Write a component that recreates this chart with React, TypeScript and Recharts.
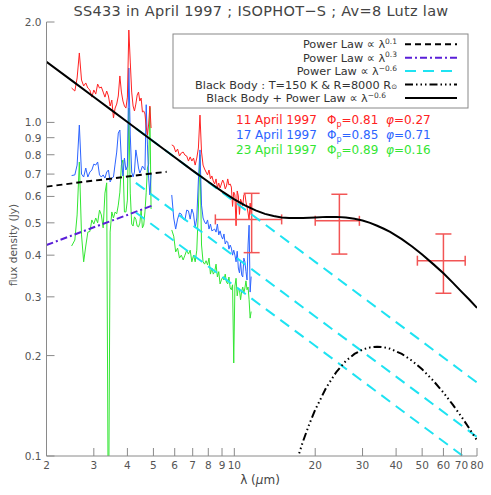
import React from 'react';
import { ComposedChart, Line, XAxis, YAxis, Scatter, ErrorBar, Customized } from 'recharts';

const FONT = "'DejaVu Sans', 'Liberation Sans', sans-serif";
const AXIS = '#8a8a8a';
const TICK_TXT = '#555';
const RED = '#ff2222';
const BLUE = '#2c64ff';
const GREEN = '#33e633';
const CYAN = '#1fe3f2';
const PURPLE = '#5a1fd8';

// ---------- axis ticks ----------
const xTicks = [2, 3, 4, 5, 6, 7, 8, 9, 10, 20, 30, 40, 50, 60, 70, 80];
const yTicks = [0.1, 0.2, 0.3, 0.4, 0.5, 0.6, 0.7, 0.8, 0.9, 1.0, 2.0];

// ---------- ISOPHOT-S spectra: short channel ----------
const shortWl = [2.48, 2.55, 2.6, 2.65, 2.7, 2.75, 2.8, 2.85, 2.9, 2.95, 3.0, 3.05, 3.1, 3.15, 3.2, 3.25, 3.3, 3.35, 3.4, 3.45, 3.5, 3.55, 3.6, 3.65, 3.7, 3.75, 3.8, 3.85, 3.9, 3.95, 4.0, 4.05, 4.1, 4.15, 4.2, 4.25, 4.3, 4.35, 4.4, 4.45, 4.5, 4.55, 4.6, 4.65, 4.7, 4.75, 4.8, 4.85, 4.9];
const redShort = [1.268, 1.242, 1.359, 1.615, 1.34, 1.286, 1.313, 1.268, 1.251, 1.191, 1.251, 1.216, 1.303, 1.268, 1.277, 1.233, 1.191, 1.242, 1.2, 1.12, 1.167, 1.031, 1.104, 1.135, 1.2, 1.378, 1.233, 1.159, 1.12, 1.104, 1.191, 1.892, 1.517, 1.233, 1.12, 1.082, 1.135, 1.208, 1.233, 1.159, 1.183, 1.075, 1.082, 1.06, 0.969, 0.917, 0.989, 1.12, 0.962];
const blueShort = [0.693, 0.696, 0.745, 0.982, 0.7, 0.686, 0.73, 0.686, 0.71, 0.72, 0.75, 0.745, 0.761, 0.696, 0.686, 0.696, 0.681, 0.71, 0.72, 0.663, 0.681, 0.686, 0.75, 0.815, 0.929, 0.949, 0.772, 0.691, 0.782, 0.72, 0.74, 1.456, 0.917, 0.71, 0.686, 0.71, 0.827, 0.782, 0.73, 0.705, 0.72, 0.74, 0.73, 0.72, 1.13, 0.856, 0.681, 0.606, 0.7];
const greenShort = [0.426, 0.444, 0.528, 0.761, 0.46, 0.382, 0.426, 0.469, 0.471, 0.51, 0.496, 0.517, 0.5, 0.546, 0.528, 0.483, 0.614, 0.659, 0.05, 0.469, 0.539, 0.517, 0.539, 0.532, 0.565, 0.618, 0.745, 0.772, 0.539, 0.539, 0.585, 1.104, 0.614, 0.496, 0.489, 0.521, 0.513, 0.489, 0.486, 0.499, 0.546, 0.483, 0.492, 0.539, 0.618, 0.73, 0.75, 1.11, 0.55];

// ---------- ISOPHOT-S spectra: long channel ----------
const longWl = [5.85, 5.95, 6.05, 6.15, 6.25, 6.35, 6.45, 6.55, 6.65, 6.75, 6.85, 6.95, 7.05, 7.15, 7.25, 7.35, 7.45, 7.55, 7.65, 7.75, 7.85, 7.95, 8.05, 8.15, 8.25, 8.35, 8.45, 8.55, 8.65, 8.75, 8.85, 8.95, 9.05, 9.15, 9.25, 9.35, 9.45, 9.55, 9.65, 9.75, 9.85, 9.95, 10.05, 10.15, 10.25, 10.35, 10.45, 10.55, 10.65, 10.75, 10.85, 10.95, 11.05, 11.15, 11.25, 11.35, 11.45, 11.55];
const redLong = [0.856, 0.85, 0.815, 0.832, 0.793, 0.81, 0.815, 0.798, 0.793, 0.766, 0.788, 0.766, 0.782, 0.745, 0.782, 0.838, 1.052, 0.815, 0.745, 0.725, 0.71, 0.696, 0.72, 0.677, 0.691, 0.667, 0.654, 0.677, 0.636, 0.658, 0.636, 0.654, 0.672, 0.658, 0.632, 0.645, 0.677, 0.649, 0.654, 0.64, 0.56, 0.618, 0.606, 0.49, 0.623, 0.602, 0.53, 0.589, 0.577, 0.562, 0.606, 0.612, 0.577, 0.558, 0.535, 0.51, 0.573, 0.528];
const blueLong = [0.606, 0.517, 0.479, 0.513, 0.535, 0.531, 0.513, 0.51, 0.546, 0.543, 0.513, 0.55, 0.531, 0.483, 0.517, 0.672, 0.827, 0.565, 0.517, 0.503, 0.496, 0.51, 0.479, 0.496, 0.473, 0.476, 0.479, 0.469, 0.496, 0.46, 0.473, 0.456, 0.447, 0.463, 0.432, 0.441, 0.438, 0.417, 0.429, 0.42, 0.4, 0.414, 0.4, 0.382, 0.411, 0.366, 0.354, 0.382, 0.349, 0.344, 0.392, 0.382, 0.357, 0.337, 0.429, 0.492, 0.31, 0.345];
const greenLong = [0.476, 0.456, 0.409, 0.42, 0.392, 0.4, 0.387, 0.4, 0.414, 0.403, 0.414, 0.382, 0.4, 0.382, 0.414, 0.55, 0.8, 0.429, 0.382, 0.376, 0.385, 0.374, 0.392, 0.351, 0.366, 0.351, 0.357, 0.376, 0.344, 0.357, 0.328, 0.337, 0.344, 0.337, 0.351, 0.332, 0.328, 0.344, 0.319, 0.315, 0.326, 0.19, 0.323, 0.341, 0.302, 0.319, 0.315, 0.294, 0.312, 0.321, 0.308, 0.319, 0.335, 0.315, 0.321, 0.294, 0.259, 0.271];

// ---------- models ----------
const pl01Wl = [2, 3, 4, 5, 5.6];
const pl01Flux = [0.642, 0.669, 0.688, 0.704, 0.711];
const pl03Wl = [2, 3, 4, 5];
const pl03Flux = [0.429, 0.485, 0.528, 0.565];
const cyanWl = [4.3, 10, 20, 40, 80];
const cyanTop = [0.96, 0.579, 0.382, 0.252, 0.166];
const cyanMid = [0.659, 0.397, 0.262, 0.173, 0.114];
const cyanLow = [0.537, 0.324, 0.214, 0.141, 0.093];
const bbWl = [16, 17, 18, 19, 20, 22, 24, 26, 28, 30, 32, 34, 36, 38, 42, 46, 50, 55, 60, 65, 70, 75, 80];
const bbFlux = [0.0805, 0.0957, 0.1104, 0.1245, 0.1376, 0.1606, 0.1789, 0.1927, 0.2023, 0.2086, 0.2116, 0.2127, 0.2119, 0.2097, 0.2023, 0.1926, 0.1819, 0.1682, 0.155, 0.1425, 0.1312, 0.1207, 0.1114];
const totWl = [2, 2.5, 3, 3.5, 4, 5, 6, 7, 8, 9, 10, 11, 12, 13, 14, 15, 16, 17, 18, 19, 20, 22, 24, 26, 28, 30, 32, 34, 36, 38, 42, 46, 50, 55, 60, 65, 70, 75, 80];
const totFlux = [1.52, 1.33, 1.192, 1.087, 1.003, 0.877, 0.786, 0.717, 0.664, 0.621, 0.588, 0.563, 0.545, 0.532, 0.524, 0.519, 0.517, 0.517, 0.517, 0.518, 0.519, 0.521, 0.521, 0.519, 0.514, 0.508, 0.5, 0.49, 0.48, 0.47, 0.447, 0.424, 0.402, 0.376, 0.353, 0.331, 0.311, 0.294, 0.278];

// ---------- photometry with error bars ----------
const photWl = [11.6, 24.6, 60];
const photFlux = [0.512, 0.507, 0.385];
const photXLo = [3.1, 4.6, 12.0];
const photXHi = [3.4, 4.6, 12.3];
const photYLo = [0.105, 0.104, 0.0775];
const photYHi = [0.101, 0.102, 0.078];

// ---------- legend / annotation text ----------
const legendEntries = [
  { main: 'Power Law ∝ λ', sup: '0.1', sub: '', dash: '6 4', color: '#000', end: 397 },
  { main: 'Power Law ∝ λ', sup: '0.3', sub: '', dash: '7 3 2 3', color: PURPLE, end: 397 },
  { main: 'Power Law ∝ λ', sup: '−0.6', sub: '', dash: '11 7', color: CYAN, end: 397 },
  { main: 'Black Body : T=150 K & R=8000 R', sup: '', sub: '⊙', dash: '8 3 1.5 3 1.5 3 1.5 3', color: '#000', end: 397 },
  { main: 'Black Body + Power Law ∝ λ', sup: '−0.6', sub: '', dash: '', color: '#000', end: 386 },
];
const dates = ['11 April 1997', '17 April 1997', '23 April 1997'];
const phiP = ['0.81', '0.85', '0.89'];
const phase = ['0.27', '0.71', '0.16'];
const dateColors = [RED, BLUE, GREEN];

const zip = (xs: number[], ys: number[]) => xs.map((x, i) => ({ x, y: ys[i] }));
const photData = photWl.map((x, i) => ({ x, y: photFlux[i], ex: [photXLo[i], photXHi[i]], ey: [photYLo[i], photYHi[i]] }));

const TL = 8;
const BottomTick = (p: any) => {
  const { x, y, payload } = p;
  return (
    <g>
      <line x1={x} x2={x} y1={y} y2={y - TL} stroke={AXIS} />
      <text x={x} y={y + 13} textAnchor="middle" fontSize={10.5} fill={TICK_TXT} fontFamily={FONT}>{String(payload.value)}</text>
    </g>
  );
};
const TopTick = (p: any) => {
  const { x, y } = p;
  return <line x1={x} x2={x} y1={y} y2={y + TL} stroke={AXIS} />;
};
const LeftTick = (p: any) => {
  const { x, y, payload } = p;
  return (
    <g>
      <line x1={x} x2={x + TL} y1={y} y2={y} stroke={AXIS} />
      <text x={x - 5} y={y + 4} textAnchor="end" fontSize={10.5} fill={TICK_TXT} fontFamily={FONT}>{Number(payload.value).toFixed(1)}</text>
    </g>
  );
};
const RightTick = (p: any) => {
  const { x, y } = p;
  return <line x1={x - TL} x2={x} y1={y} y2={y} stroke={AXIS} />;
};

const Empty = () => <g />;

const Overlay = () => (
  <g fontFamily={FONT}>
    <text x={261} y={16} textAnchor="middle" fontSize={14.5} letterSpacing={0.3} fill="#444">SS433 in April 1997 ; ISOPHOT−S ; Av=8 Lutz law</text>
    <text x={260} y={484} textAnchor="middle" fontSize={12} fill="#444">λ (<tspan fontStyle="italic">μ</tspan>m)</text>
    <text transform="rotate(-90 17 245)" x={17} y={245} textAnchor="middle" fontSize={10.5} fill="#555">flux density (Jy)</text>
    <rect x={173} y={34} width={295} height={74} fill="#fff" stroke="#888" />
    {legendEntries.map((e, i) => {
      const cy = 44.3 + 13.4 * i;
      return (
        <g key={i}>
          <text x={e.end} y={cy + 4.1} textAnchor="end" fontSize={11.3} fill="#333">
            {e.main}
            {e.sup ? <tspan dy={-4.5} fontSize={7.5}>{e.sup}</tspan> : null}
            {e.sub ? <tspan fontSize={7}>{e.sub}</tspan> : null}
          </text>
          <line x1={405} x2={457} y1={cy} y2={cy} stroke={e.color} strokeWidth={2} strokeDasharray={e.dash || undefined} />
        </g>
      );
    })}
    {dates.map((d, i) => {
      const by = 123.7 + 15 * i;
      const c = dateColors[i];
      return (
        <g key={d} fill={c} fontSize={12}>
          <text x={236} y={by}>{d}</text>
          <text x={327} y={by}>Φ<tspan dy={3} fontSize={8}>p</tspan><tspan dy={-3}>={phiP[i]}</tspan></text>
          <text x={386} y={by}><tspan fontStyle="italic">φ</tspan>={phase[i]}</text>
        </g>
      );
    })}
  </g>
);

export default function App() {
  return (
    <div style={{ position: 'absolute', left: 0, top: 0, width: 491, height: 495, background: '#fff' }}>
      <ComposedChart width={491} height={495} margin={{ top: 22, right: 14, bottom: 9, left: 0.5 }} style={{ fontFamily: FONT }}>
        <XAxis xAxisId={0} dataKey="x" type="number" scale="log" domain={[2, 80]} allowDataOverflow ticks={xTicks} interval={0}
          tickSize={0} tickMargin={0} tickLine={false} tick={<BottomTick />} axisLine={{ stroke: AXIS }} height={30} />
        <XAxis xAxisId="top" orientation="top" dataKey="x" type="number" scale="log" domain={[2, 80]} allowDataOverflow ticks={xTicks} interval={0}
          tickSize={0} tickMargin={0} tickLine={false} tick={<TopTick />} axisLine={{ stroke: AXIS }} height={0} />
        <YAxis yAxisId={0} type="number" scale="log" domain={[0.1, 2]} allowDataOverflow ticks={yTicks} interval={0}
          tickSize={0} tickMargin={0} tickLine={false} tick={<LeftTick />} axisLine={{ stroke: AXIS }} width={46} />
        <YAxis yAxisId="right" orientation="right" type="number" scale="log" domain={[0.1, 2]} allowDataOverflow ticks={yTicks} interval={0}
          tickSize={0} tickMargin={0} tickLine={false} tick={<RightTick />} axisLine={{ stroke: AXIS }} width={0} />

        <Line data={zip(shortWl, greenShort)} dataKey="y" stroke={GREEN} strokeWidth={1} dot={false} isAnimationActive={false} />
        <Line data={zip(longWl, greenLong)} dataKey="y" stroke={GREEN} strokeWidth={1} dot={false} isAnimationActive={false} />
        <Line data={zip(shortWl, blueShort)} dataKey="y" stroke={BLUE} strokeWidth={1} dot={false} isAnimationActive={false} />
        <Line data={zip(longWl, blueLong)} dataKey="y" stroke={BLUE} strokeWidth={1} dot={false} isAnimationActive={false} />
        <Line data={zip(shortWl, redShort)} dataKey="y" stroke={RED} strokeWidth={1} dot={false} isAnimationActive={false} />
        <Line data={zip(longWl, redLong)} dataKey="y" stroke={RED} strokeWidth={1} dot={false} isAnimationActive={false} />

        <Scatter data={photData} dataKey="y" shape={<Empty />} isAnimationActive={false}>
          <ErrorBar dataKey="ey" direction="y" width={8} stroke="#f25555" strokeWidth={1.5} />
          <ErrorBar dataKey="ex" direction="x" width={5} stroke="#f25555" strokeWidth={1.5} />
        </Scatter>

        <Line data={zip(pl03Wl, pl03Flux)} dataKey="y" stroke={PURPLE} strokeWidth={2} strokeDasharray="7 3 2 3" dot={false} isAnimationActive={false} />
        <Line data={zip(pl01Wl, pl01Flux)} dataKey="y" stroke="#000" strokeWidth={2} strokeDasharray="6 4" dot={false} isAnimationActive={false} />
        <Line data={zip(cyanWl, cyanTop)} dataKey="y" stroke={CYAN} strokeWidth={2} strokeDasharray="11 7" dot={false} isAnimationActive={false} />
        <Line data={zip(cyanWl, cyanMid)} dataKey="y" stroke={CYAN} strokeWidth={2} strokeDasharray="11 7" dot={false} isAnimationActive={false} />
        <Line data={zip(cyanWl, cyanLow)} dataKey="y" stroke={CYAN} strokeWidth={2} strokeDasharray="11 7" dot={false} isAnimationActive={false} />
        <Line data={zip(bbWl, bbFlux)} dataKey="y" stroke="#000" strokeWidth={2} strokeDasharray="8 3 1.5 3 1.5 3 1.5 3" dot={false} isAnimationActive={false} />
        <Line data={zip(totWl, totFlux)} dataKey="y" stroke="#000" strokeWidth={2} dot={false} isAnimationActive={false} />

        <Customized component={Overlay} />
      </ComposedChart>
    </div>
  );
}
